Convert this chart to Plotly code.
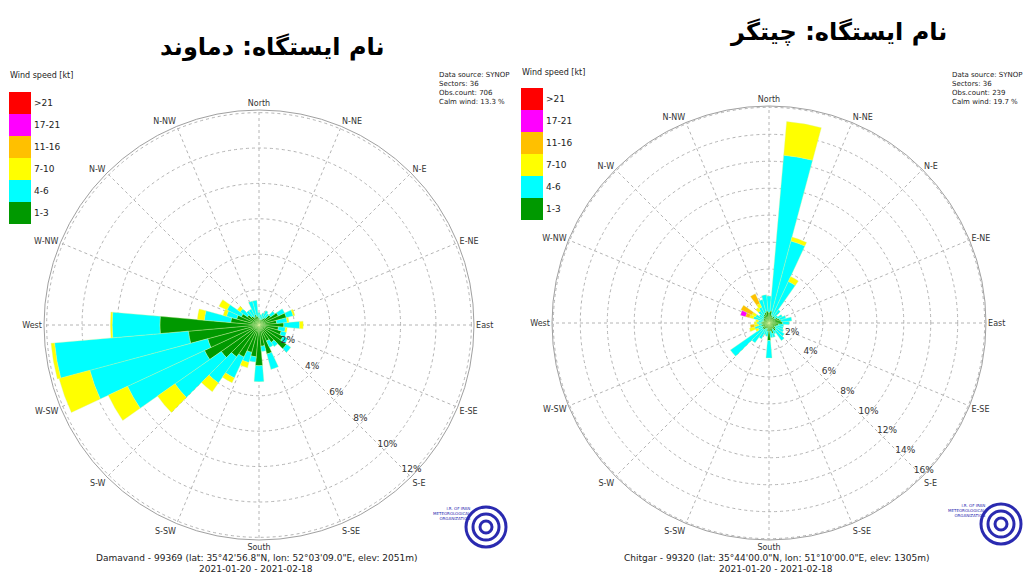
import plotly.graph_objects as go

OFF = 0
W, H = 1023, 576

# ---------------- data ----------------
directions = [i * 10 for i in range(36)]
speed_classes = ["1-3", "4-6", "7-10", "11-16", "17-21", ">21"]
class_colors = ["#009900", "#00FFFF", "#FFFF00", "#FFC000", "#FF00FF", "#FF0000"]

# Damavand: percent per speed class per sector (0..350 deg)
dam_1_3 = [0.4, 0.3, 0.3, 0.4, 0.5, 0.8, 1.2, 1.6, 1.0, 1.4, 1.1, 1.3,
           1.5, 1.9, 1.2, 1.0, 1.7, 1.2, 2.3, 1.8, 1.6, 2.0, 2.2, 2.6,
           3.4, 3.0, 4.0, 5.6, 1.6, 1.3, 1.1, 0.8, 0.6, 0.5, 0.6, 0.5]
dam_4_6 = [0.3, 0.3, 0.4, 0.5, 0.3, 0.3, 0.4, 0.4, 0.6, 0.9, 0.4, 0.3,
           0.3, 0.3, 0.3, 0.4, 0.9, 0.3, 0.9, 0.3, 0.6, 1.3, 1.8, 3.2,
           4.8, 6.9, 7.6, 2.7, 1.5, 0.6, 0.9, 0.5, 0.4, 0.5, 0.8, 0.9]
dam_7_10 = [0, 0, 0, 0, 0, 0, 0, 0.1, 0.1, 0.2, 0.1, 0,
            0, 0, 0, 0, 0, 0, 0, 0, 0.3, 0.3, 0.6, 1.2,
            1.2, 1.8, 0.2, 0.1, 0.4, 0.2, 0.5, 0.2, 0, 0, 0, 0]
dam_11_16 = [0] * 36
dam_17_21 = [0] * 36
dam_gt21 = [0] * 36

# Chitgar
chi_1_3 = [0.8, 0.9, 0.6, 0.5, 0.6, 0.5, 0.7, 0.8, 0.9, 1.0, 0.7, 0.6,
           0.5, 0.6, 0.7, 0.5, 0.8, 0.6, 1.3, 0.6, 0.4, 0.5, 0.6, 0.6,
           0.5, 0.6, 0.5, 0.6, 0.5, 0.4, 0.5, 0.5, 0.6, 0.7, 0.8, 0.9]
chi_4_6 = [1.2, 11.6, 5.7, 2.9, 0.6, 0.3, 0.4, 0.5, 0.8, 0.5, 0.4, 0.5,
           0.7, 0.8, 0.9, 0.4, 0.3, 0.5, 1.3, 0.4, 0.5, 0.8, 1.2, 2.9,
           0.4, 0.5, 0.3, 0.3, 0.3, 0.8, 0.6, 0.4, 0.5, 0.6, 1.0, 1.2]
chi_7_10 = [0, 2.5, 0.3, 0.4, 0, 0, 0, 0, 0, 0, 0, 0,
            0, 0, 0, 0, 0, 0, 0, 0, 0, 0, 0, 0,
            0.2, 0.4, 0.3, 0.2, 0.2, 0.3, 0.3, 0, 0.3, 0.3, 0, 0]
chi_11_16 = [0, 0, 0, 0, 0, 0, 0, 0, 0, 0, 0, 0,
             0, 0, 0, 0, 0, 0, 0, 0, 0, 0, 0, 0,
             0, 0, 0.3, 0, 0, 0.3, 0.9, 0, 0, 0.8, 0, 0]
chi_17_21 = [0] * 29 + [0.4] + [0] * 6
chi_gt21 = [0] * 36

compass_angles = [i * 22.5 for i in range(16)]
compass_labels = ["North", "N-NE", "N-E", "E-NE", "East", "E-SE", "S-E", "S-SE",
                  "South", "S-SW", "S-W", "W-SW", "West", "W-NW", "N-W", "N-NW"]

dam_ticks = [2, 4, 6, 8, 10, 12]
chi_ticks = [2, 4, 6, 8, 10, 12, 14, 16]

stations = [
    dict(name="polar", classes=[dam_1_3, dam_4_6, dam_7_10, dam_11_16, dam_17_21, dam_gt21]),
    dict(name="polar2", classes=[chi_1_3, chi_4_6, chi_7_10, chi_11_16, chi_17_21, chi_gt21]),
]

fig = go.Figure()
for st in stations:
    for cls, col, vals in zip(speed_classes, class_colors, st["classes"]):
        fig.add_trace(go.Barpolar(
            r=vals, theta=directions, width=[10] * 36, name=cls,
            marker=dict(color=col, line=dict(width=0.4, color="rgba(215,245,160,0.9)")),
            subplot=st["name"], showlegend=False,
        ))
# empty traces so that the label-only overlay subplots exist
for sp in ["polar3", "polar4"]:
    fig.add_trace(go.Barpolar(r=[], theta=[], subplot=sp, showlegend=False, hoverinfo="skip"))


def X(px):
    return (px - OFF) / W


def Y(py):
    return 1 - (py - OFF) / H


def dom(cx, cy, rad):
    return dict(x=[X(cx - rad), X(cx + rad)], y=[Y(cy + rad), Y(cy - rad)])


def polar_layout(cx, cy, rad, ticks, rmax):
    return dict(
        domain=dom(cx, cy, rad),
        bgcolor="white",
        barmode="stack",
        angularaxis=dict(
            rotation=90, direction="clockwise",
            tickmode="array", tickvals=compass_angles, ticktext=compass_labels,
            tickfont=dict(family="DejaVu Sans", size=8, color="#333333"),
            showline=True, linecolor="#a0a0a0", linewidth=1,
            showgrid=True, gridcolor="#b4b4b4", griddash="dot", gridwidth=1,
            ticks="",
        ),
        radialaxis=dict(
            range=[0, rmax], angle=-45,
            tickmode="array", tickvals=ticks, showticklabels=False,
            showline=False, ticks="",
            showgrid=True, gridcolor="#b4b4b4", griddash="dot", gridwidth=1,
        ),
    )


def label_layout(cx, cy, rad, ticks, rmax, shift):
    # transparent overlay carrying the percentage labels of the radial axis
    return dict(
        domain=dom(cx, cy, rad),
        bgcolor="rgba(0,0,0,0)",
        angularaxis=dict(visible=False, rotation=90, direction="clockwise"),
        radialaxis=dict(
            range=[0, rmax], angle=-47, tickangle=-47, side="counterclockwise",
            tickmode="array", tickvals=[t - shift for t in ticks],
            ticktext=[f"{t}%" for t in ticks],
            tickfont=dict(family="DejaVu Sans", size=9, color="#333333"),
            showline=False, ticks="", showgrid=False,
        ),
    )


L = dict(cx=259, cy=325, rad=215, rmax=12.15)
R = dict(cx=769, cy=323, rad=217, rmax=16.1)

fig.update_layout(
    width=W, height=H,
    margin=dict(l=0, r=0, t=0, b=0),
    paper_bgcolor="white", plot_bgcolor="white",
    polar=polar_layout(L["cx"], L["cy"], L["rad"], dam_ticks, L["rmax"]),
    polar2=polar_layout(R["cx"], R["cy"], R["rad"], chi_ticks, R["rmax"]),
    polar3=label_layout(L["cx"], L["cy"], L["rad"], dam_ticks, L["rmax"], 0.6),
    polar4=label_layout(R["cx"], R["cy"], R["rad"], chi_ticks, R["rmax"], 0.8),
    showlegend=False,
)

shapes = []
annotations = []


def ann(x, y, text, size, xanchor="center", yanchor="middle", align="center", color="#222222", family="DejaVu Sans"):
    annotations.append(dict(x=X(x), y=Y(y), xref="paper", yref="paper", showarrow=False,
                            xanchor=xanchor, yanchor=yanchor, align=align, text=text,
                            borderpad=0,
                            font=dict(family=family, size=size, color=color)))


# titles
ann(272, 47, "<b>نام ایستگاه: دماوند</b>", 24, color="black")
ann(838, 32, "<b>نام ایستگاه: چیتگر</b>", 24, color="black")

# custom legends
for lx, ly in [(9, 92), (521, 88)]:
    ann(lx, ly - 16, "Wind speed [kt]", 8, xanchor="left")
    order = list(range(5, -1, -1))
    for k, idx in enumerate(order):
        y0 = ly + k * 22
        shapes.append(dict(type="rect", xref="paper", yref="paper",
                           x0=X(lx), x1=X(lx + 22), y0=Y(y0 + 22), y1=Y(y0),
                           fillcolor=class_colors[idx], line=dict(width=0)))
        ann(lx + 24, y0 + 11, speed_classes[idx], 9, xanchor="left")

# info boxes
info = [(438, "706", "13.3"), (951, "239", "19.7")]
for ix, obs, calm in info:
    ann(ix, 70, f"Data source: SYNOP<br>Sectors: 36<br>Obs.count: {obs}<br>Calm wind: {calm} %",
        7, xanchor="left", yanchor="top", align="left")

# footers
footers = [(256, "Damavand - 99369 (lat: 35°42'56.8\"N, lon: 52°03'09.0\"E, elev: 2051m)"),
           (776, "Chitgar - 99320 (lat: 35°44'00.0\"N, lon: 51°10'00.0\"E, elev: 1305m)")]
for fx, txt in footers:
    ann(fx, 558, txt, 9)
    ann(fx, 569, "2021-01-20 - 2021-02-18", 9)

# logos (simplified)
for lcx, lcy in [(486, 527), (1001, 524)]:
    for rr in [20, 13, 6]:
        shapes.append(dict(type="circle", xref="paper", yref="paper",
                           x0=X(lcx - rr), x1=X(lcx + rr), y0=Y(lcy + rr), y1=Y(lcy - rr),
                           line=dict(color="#2a2ab0", width=3)))
    ann(lcx - 14, lcy - 14, "I.R. OF IRAN<br>METEOROLOGICAL<br>ORGANIZATION", 4,
        xanchor="right", align="right", color="#2a2ab0")

fig.update_layout(shapes=shapes, annotations=annotations)
fig.write_html(
    "out.html",
    config={"displayModeBar": False},
    post_script="document.body.style.margin='0px';document.body.style.overflow='hidden';"
                "document.documentElement.style.overflow='hidden';",
)
